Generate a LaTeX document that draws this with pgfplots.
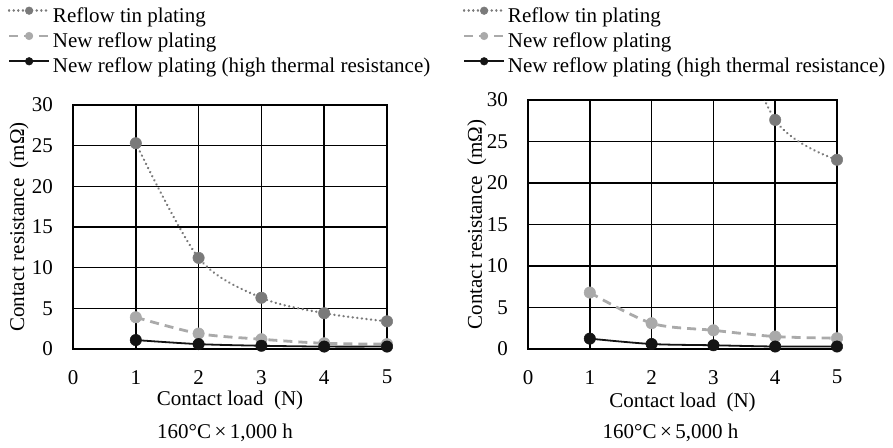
\documentclass[border=0pt]{standalone}
\usepackage{pgfplots}
\pgfplotsset{compat=1.18}
\usepackage{fontspec}
\setmainfont{Liberation Serif}
\definecolor{tin}{HTML}{7A7A7A}
\definecolor{newr}{HTML}{AAAAAA}
\definecolor{blk}{HTML}{141414}
\pgfplotsset{
  tinline/.style={color=tin, line width=2.6pt, line cap=round, dash pattern=on 0.01pt off 4.6pt, mark=*, mark size=5.7pt, mark options={solid, fill=tin, draw=tin, line width=0.5pt}},
  newline/.style={color=newr, line width=2.8pt, dash pattern=on 9pt off 6pt, mark=*, mark size=5.7pt, mark options={solid, fill=newr, draw=newr, line width=0.5pt}},
  blkline/.style={color=blk, line width=1.8pt, solid, mark=*, mark size=5.7pt, mark options={solid, fill=blk, draw=blk, line width=0.5pt}},
  myaxis/.style={
    scale only axis,
    xmin=0, xmax=5, ymin=0, ymax=30,
    xtick={0,1,2,3,4,5}, ytick={0,5,10,15,20,25,30},
    grid=major, major grid style={black, line width=1.6pt},
    axis line style={black, line width=1.6pt},
    major tick length=0pt, tick style={draw=none},
    /pgf/number format/assume math mode=true,
    tick label style={font=\fontsize{21}{25}\selectfont, inner sep=0pt},
    xticklabel style={yshift=-21pt},
    yticklabel style={xshift=-20pt},
    label style={font=\fontsize{21}{25}\selectfont, inner sep=0pt},
    xlabel={Contact load~~(N)},
    ylabel={Contact resistance~~(mΩ)},
    legend cell align=left,
    legend style={draw=none, fill=none, inner sep=0pt, anchor=north west, row sep=5pt,
      font=\fontsize{21}{25}\selectfont,
      nodes={inner xsep=2.5pt, inner ysep=0pt, text height=15pt, text depth=5pt}},
    legend image code/.code={
      \draw[##1, mark=none] (0pt,6.5pt) -- (40pt,6.5pt);
      \draw[##1, solid, mark size=3.8pt] plot coordinates {(20pt,6.5pt)};
    },
  },
}
\begin{document}
\begin{tikzpicture}[font=\fontsize{21}{25}\selectfont]
\useasboundingbox (0,0) rectangle (893pt,447pt);
\begin{axis}[myaxis, name=L, at={(73pt,98pt)}, anchor=south west, width=314pt, height=244pt,
  xlabel style={at={(axis description cs:0.5,0)}, anchor=base, yshift=-56pt},
  ylabel style={at={(axis description cs:-0.156,0.5)}, anchor=base},
  legend style={at={(axis description cs:-0.2086,1.4029)}}]
\addlegendimage{tinline}\addlegendentry{Reflow tin plating}
\addlegendimage{newline}\addlegendentry{New reflow plating}
\addlegendimage{blkline}\addlegendentry{New reflow plating (high thermal resistance)}
\addplot[tinline, smooth, forget plot] coordinates {(1,25.3) (2,11.2) (3,6.3) (4,4.4) (5,3.4)};
\addplot[newline, smooth, forget plot] coordinates {(1,3.9) (2,1.9) (3,1.2) (4,0.7) (5,0.6)};
\addplot[blkline, smooth, forget plot] coordinates {(1,1.1) (2,0.6) (3,0.4) (4,0.3) (5,0.3)};
\end{axis}
\node[anchor=base] at ([xshift=-5pt, yshift=-89pt]L.south) {160°C\,×\,1,000 h};
\begin{axis}[myaxis, name=R, at={(528pt,98pt)}, anchor=south west, width=309pt, height=249pt,
  xlabel style={at={(axis description cs:0.5,0)}, anchor=base, yshift=-58pt},
  ylabel style={at={(axis description cs:-0.149,0.5)}, anchor=base},
  legend style={at={(axis description cs:-0.212,1.3747)}}]
\addlegendimage{tinline}\addlegendentry{Reflow tin plating}
\addlegendimage{newline}\addlegendentry{New reflow plating}
\addlegendimage{blkline}\addlegendentry{New reflow plating (high thermal resistance)}
\addplot[tinline, smooth, mark=none, forget plot] coordinates {(3,45) (4,27.6) (5,22.8)};
\addplot[tinline, only marks, forget plot] coordinates {(4,27.6) (5,22.8)};
\addplot[newline, smooth, forget plot] coordinates {(1,6.8) (2,3.1) (3,2.25) (4,1.5) (5,1.3)};
\addplot[blkline, smooth, forget plot] coordinates {(1,1.25) (2,0.6) (3,0.45) (4,0.3) (5,0.3)};
\end{axis}
\node[anchor=base] at ([xshift=-12pt, yshift=-89pt]R.south) {160°C\,×\,5,000 h};
\end{tikzpicture}
\end{document}
